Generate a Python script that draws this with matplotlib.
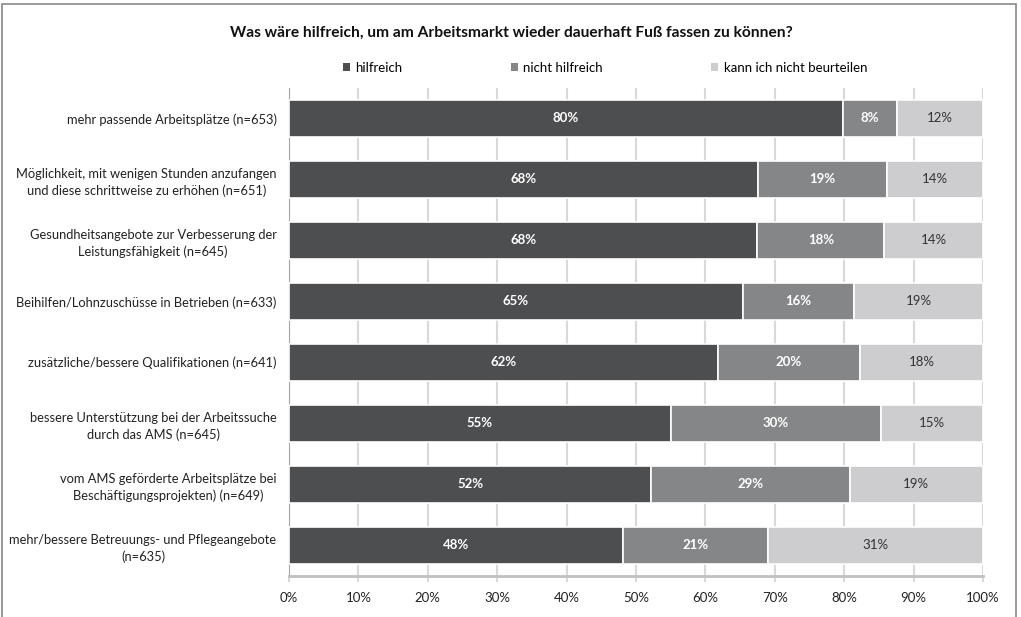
import numpy as np
import matplotlib.pyplot as plt
from matplotlib.patches import Patch, Rectangle

plt.rcParams['font.family'] = ['Lato', 'DejaVu Sans']

categories = [
    'mehr passende Arbeitsplätze (n=653)',
    'Möglichkeit, mit wenigen Stunden anzufangen\nund diese schrittweise zu erhöhen (n=651)',
    'Gesundheitsangebote zur Verbesserung der\nLeistungsfähigkeit (n=645)',
    'Beihilfen/Lohnzuschüsse in Betrieben (n=633)',
    'zusätzliche/bessere Qualifikationen (n=641)',
    'bessere Unterstützung bei der Arbeitssuche\ndurch das AMS (n=645)',
    'vom AMS geförderte Arbeitsplätze bei\nBeschäftigungsprojekten) (n=649)',
    'mehr/bessere Betreuungs- und Pflegeangebote\n(n=635)',
]
hilfreich = [79.8, 67.6, 67.5, 65.4, 61.8, 55.0, 52.2, 48.1]
nicht_hilfreich = [7.8, 18.6, 18.3, 16.0, 20.5, 30.3, 28.6, 20.9]
kann_nicht = [12.4, 13.8, 14.2, 18.6, 17.7, 14.7, 19.2, 31.0]
series_names = ['hilfreich', 'nicht hilfreich', 'kann ich nicht beurteilen']
colors = ['#4d4e50', '#858688', '#cdcdcf']
text_colors = ['white', 'white', '#333333']
text_weights = ['bold', 'bold', 'normal']

fig = plt.figure(figsize=(10.21, 6.17), dpi=100)
ax = fig.add_axes([289/1021, 1 - 575.5/617, 694/1021, 487.5/617])

y = np.arange(len(categories))
left = np.zeros(len(categories))
for vals, c, tc, tw in zip([hilfreich, nicht_hilfreich, kann_nicht], colors, text_colors, text_weights):
    vals = np.array(vals)
    ax.barh(y, vals, left=left, height=0.607, color=c, edgecolor='white', linewidth=1.2, zorder=3)
    for yi, l, v in zip(y, left, vals):
        ax.text(l + v/2, yi, f'{round(v):.0f}%', ha='center', va='center',
                color=tc, fontweight=tw, fontsize=9.5, zorder=4)
    left += vals

ax.set_xlim(0, 100)
ax.set_ylim(len(categories) - 0.5, -0.5)
ax.set_xticks(np.arange(0, 101, 10))
ax.set_xticklabels([f'{t}%' for t in range(0, 101, 10)], fontsize=9.5, color='#222222')
ax.set_yticks(y)
ax.set_yticklabels(categories, fontsize=9.3, color='#222222')
for lab in ax.get_yticklabels():
    lab.set_multialignment('center')
    lab.set_linespacing(1.4)
ax.tick_params(axis='y', length=0, pad=9)
ax.tick_params(axis='x', length=4, color='#d9d9d9', width=1.5, pad=8)
ax.grid(axis='x', color='#d9d9d9', linewidth=1.5, zorder=0)
for s in ['top', 'right']:
    ax.spines[s].set_visible(False)
ax.spines['left'].set_color('#a6a6a6')
ax.spines['bottom'].set_color('#bfbfbf')
ax.spines['bottom'].set_linewidth(2)

fig.text(511/1021, 1 - 33/617, 'Was wäre hilfreich, um am Arbeitsmarkt wieder dauerhaft Fuß fassen zu können?',
         ha='center', va='center', fontsize=11.2, fontweight='bold', color='#111111')

handles = [Patch(facecolor=c, edgecolor='none') for c in colors]
fig.legend(handles, series_names, loc='center', bbox_to_anchor=(605/1021, 1 - 68/617), ncol=3,
           frameon=False, fontsize=9.5, handlelength=0.55, handleheight=0.55,
           handletextpad=0.4, columnspacing=8.2)

fig.patches.append(Rectangle((2/1021, -0.05), 1014/1021, 1.05 - 4/617, transform=fig.transFigure,
                             fill=False, edgecolor='#888888', linewidth=1.2))

fig.savefig('out.png', dpi=100)
